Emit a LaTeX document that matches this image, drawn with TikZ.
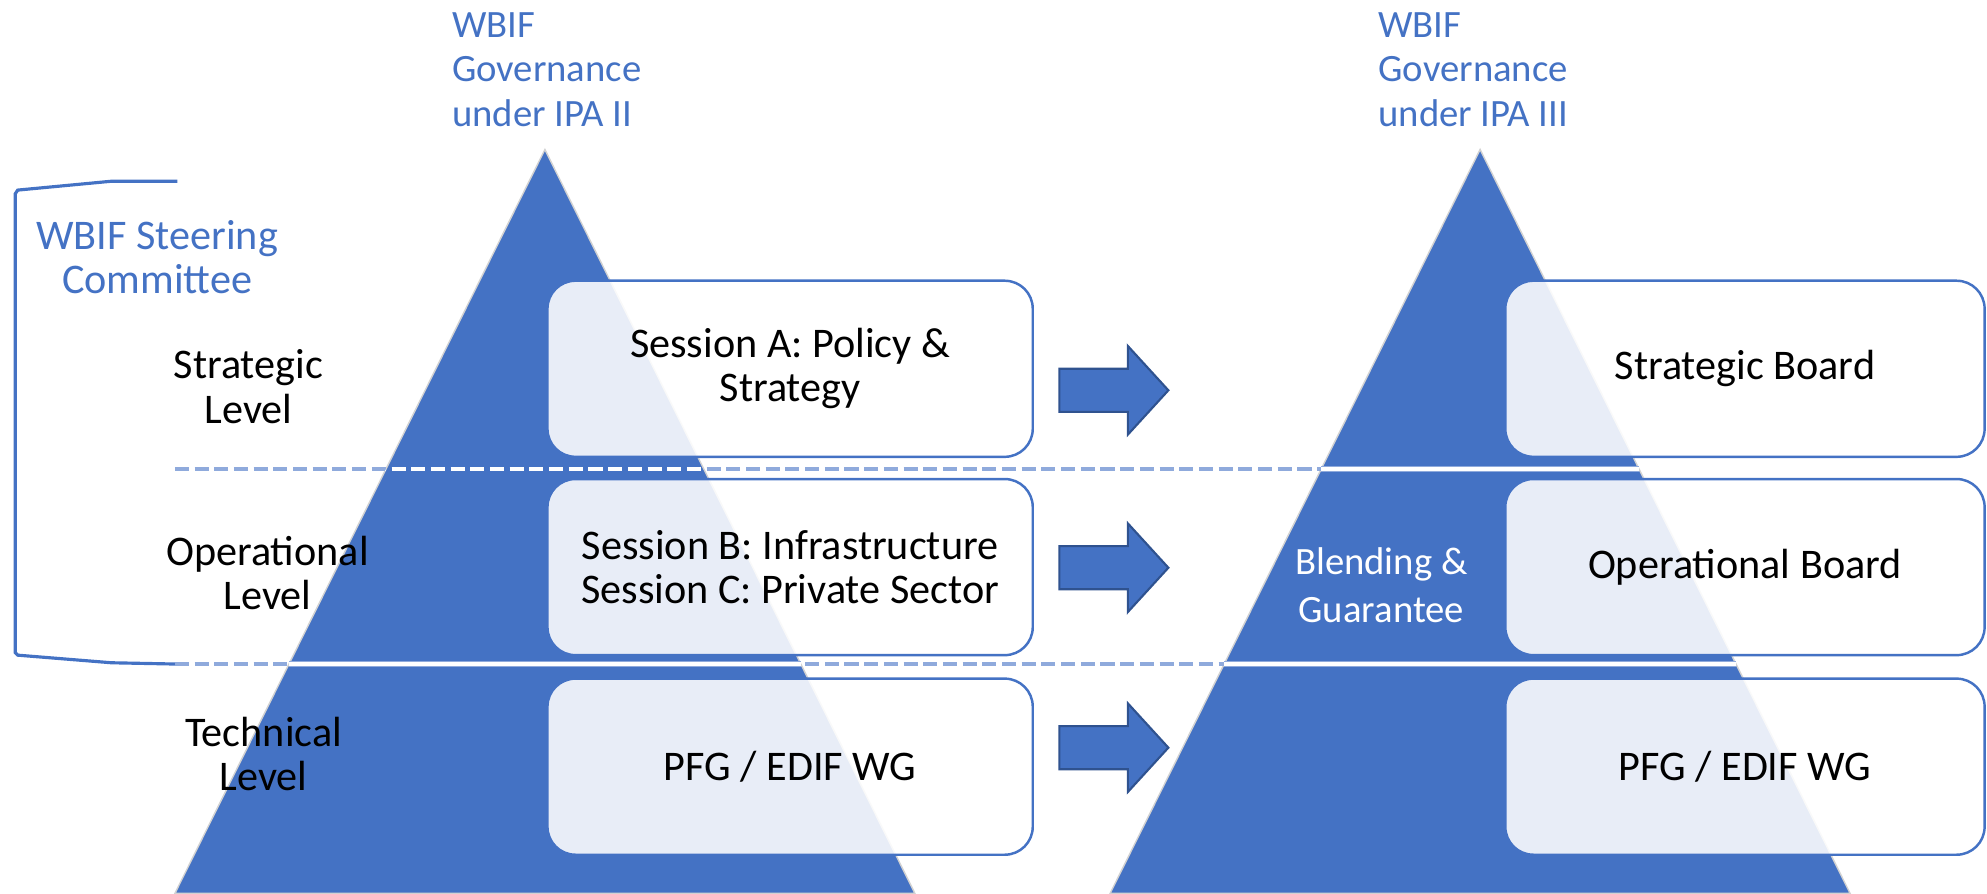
\documentclass[tikz,border=0pt]{standalone}
\usepackage{fontspec}
\setmainfont{Carlito}
\usepackage{xcolor}
\usepackage{tikz}
\definecolor{bleu}{HTML}{4472C4}
\definecolor{bleuclair}{HTML}{8FAADC}
\definecolor{bleufonce}{HTML}{2F528F}

\begin{document}
\begin{tikzpicture}[x=0.012672cm,y=-0.012672cm]
% Styles (MODIFIABLES)
\tikzstyle{pyramide}=[fill=bleu,draw=gray!35,line width=0.4pt]
\tikzstyle{boite}=[draw=bleu,line width=0.7pt,fill=white,fill opacity=0.88,text opacity=1,rounded corners=0.28cm,minimum height=1.76cm,align=center,font=\fontsize{12}{12.6}\selectfont]
\tikzstyle{niveau}=[align=center,font=\fontsize{12}{12.6}\selectfont]
\tikzstyle{titre}=[text=bleu,align=left,anchor=west,font=\fontsize{11}{12.6}\selectfont]
\tikzstyle{pointille}=[bleuclair,line width=1.2pt,dash pattern=on 4pt off 1.6pt]
\tikzstyle{pointblanc}=[white,line width=1.2pt,dash pattern=on 4pt off 1.6pt]
\tikzstyle{trait}=[draw=bleuclair,line width=0.4pt,double=white,double distance=1.1pt]
\tikzstyle{fleche}=[fill=bleu,draw=bleufonce,line width=0.6pt]
% Dimensions (MODIFIABLES)
\def\Sommet{118}
\def\Base{705}
\def\Pente{0.4974}
\def\SommetG{430}
\def\SommetD{1168}
\def\NiveauA{370}
\def\NiveauB{524}
\def\ColonneG{623.5}
\def\ColonneD{1377}
% Dimensions calculées (NON MODIFIABLES)
\def\DemiBase{(\Base-\Sommet)*\Pente}
\def\DemiA{(\NiveauA-\Sommet)*\Pente}
\def\DemiB{(\NiveauB-\Sommet)*\Pente}
\useasboundingbox (0,0) rectangle (1568,705);
% Pyramides
\filldraw[pyramide] (\SommetG,\Sommet) -- ({\SommetG-\DemiBase},\Base) -- ({\SommetG+\DemiBase},\Base) -- cycle;
\filldraw[pyramide] (\SommetD,\Sommet) -- ({\SommetD-\DemiBase},\Base) -- ({\SommetD+\DemiBase},\Base) -- cycle;
% Separations des niveaux
\draw[pointille] (138,\NiveauA) -- ({\SommetD-\DemiA},\NiveauA);
\draw[pointille] (138,\NiveauB) -- ({\SommetD-\DemiB},\NiveauB);
\begin{scope}
\clip (\SommetG,\Sommet) -- ({\SommetG-\DemiBase},\Base) -- ({\SommetG+\DemiBase},\Base) -- cycle;
\draw[pointblanc] (138,\NiveauA) -- ({\SommetD-\DemiA},\NiveauA);
\end{scope}
\draw[trait] ({\SommetD-\DemiA},\NiveauA) -- ({\SommetD+\DemiA},\NiveauA);
\draw[trait] ({\SommetG-\DemiB},\NiveauB) -- ({\SommetG+\DemiB},\NiveauB);
\draw[trait] ({\SommetD-\DemiB},\NiveauB) -- ({\SommetD+\DemiB},\NiveauB);
% Accolade du comite
\draw[bleu,line width=0.9pt] (140,143) -- (88,143) -- (14,150) -- (12,153) -- (12,515) -- (14,517) -- (88,523) -- (138,524);
% Noeuds (MODIFIABLES)
\node[boite,minimum width=4.85cm] (sessionA) at (\ColonneG,291) {Session A: Policy \&\\Strategy};
\node[boite,minimum width=4.85cm] (sessionBC) at (\ColonneG,447.5) {Session B: Infrastructure\\Session C: Private Sector};
\node[boite,minimum width=4.85cm] (groupeII) at (\ColonneG,605) {PFG / EDIF WG};
\node[boite,minimum width=4.79cm] (conseilStrat) at (\ColonneD,291) {Strategic Board};
\node[boite,minimum width=4.79cm] (conseilOp) at (\ColonneD,447.5) {Operational Board};
\node[boite,minimum width=4.79cm] (groupeIII) at (\ColonneD,605) {PFG / EDIF WG};
\node[niveau] (strategique) at (196,305) {Strategic\\Level};
\node[niveau] (operationnel) at (211,452) {Operational\\Level};
\node[niveau] (technique) at (208,595) {Technical\\Level};
\node[text=bleu,align=center,font=\fontsize{12}{12.6}\selectfont] (comite) at (124,203) {WBIF Steering\\Committee};
\node[titre] (titreII) at (347,55) {WBIF\\Governance\\under IPA II};
\node[titre] (titreIII) at (1078,55) {WBIF\\Governance\\under IPA III};
\node[text=white,align=center,font=\fontsize{11}{13.7}\selectfont] (blending) at (1090,462) {Blending \&\\Guarantee};
% Fleches
\foreach \y in {308,448,590}
  \filldraw[fleche] (836,\y-17) -- (890,\y-17) -- (890,\y-35) -- (922,\y) -- (890,\y+35) -- (890,\y+17) -- (836,\y+17) -- cycle;
\end{tikzpicture}
\end{document}
